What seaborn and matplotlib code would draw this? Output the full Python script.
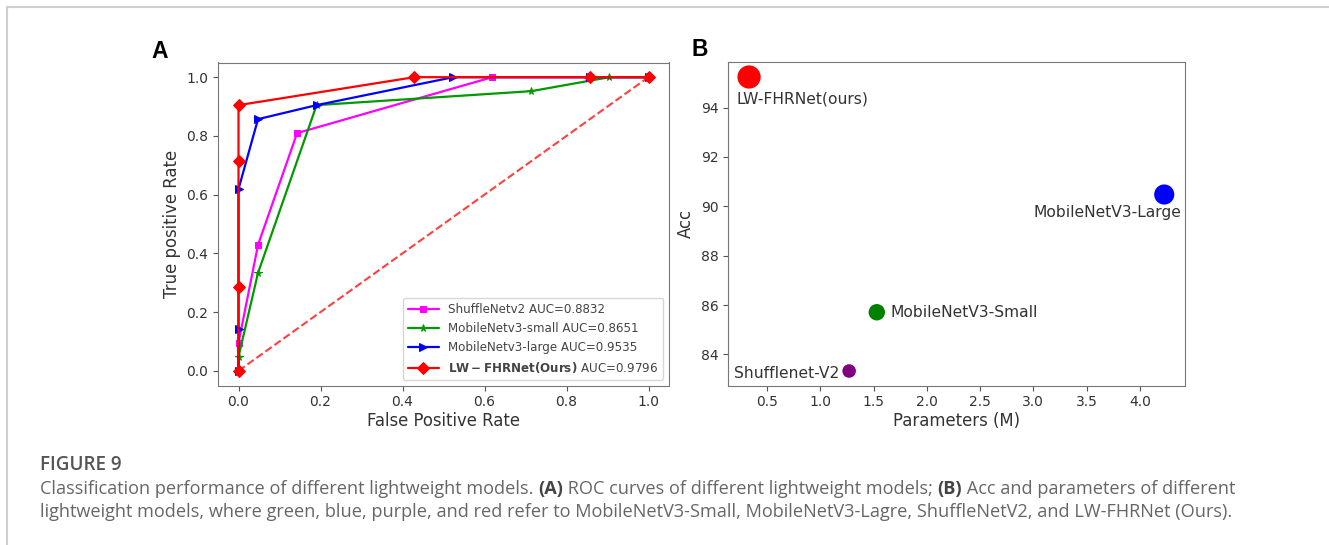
import numpy as np
import pandas as pd
import matplotlib
matplotlib.use("Agg")
import matplotlib.pyplot as plt
import seaborn as sns
from matplotlib.lines import Line2D

# ---------------- data ----------------
# Panel A: ROC curves
shuffle_fpr = [0.0, 0.0, 0.0476, 0.1429, 0.6190, 1.0]
shuffle_tpr = [0.0, 0.0952, 0.4286, 0.8095, 1.0, 1.0]
small_fpr = [0.0, 0.0, 0.0476, 0.1905, 0.7143, 0.9048, 1.0]
small_tpr = [0.0, 0.0476, 0.3333, 0.9048, 0.9524, 1.0, 1.0]
large_fpr = [0.0, 0.0, 0.0, 0.0476, 0.1905, 0.5238, 0.8571, 1.0]
large_tpr = [0.0, 0.1429, 0.6190, 0.8571, 0.9048, 1.0, 1.0, 1.0]
ours_fpr = [0.0, 0.0, 0.0, 0.0, 0.4286, 0.8571, 1.0]
ours_tpr = [0.0, 0.2857, 0.7143, 0.9048, 1.0, 1.0, 1.0]
roc_labels = ["ShuffleNetv2 AUC=0.8832",
              "MobileNetv3-small AUC=0.8651",
              "MobileNetv3-large AUC=0.9535",
              r"$\bf{LW-FHRNet(Ours)}$ AUC=0.9796"]

# Panel B: accuracy vs parameters
models_b = ["LW-FHRNet(ours)", "MobileNetV3-Large", "MobileNetV3-Small", "Shufflenet-V2"]
params_b = [0.33, 4.23, 1.53, 1.27]
acc_b = [95.24, 90.48, 85.71, 83.33]
colors_b = ["#ff0000", "#0000ff", "#008000", "#800080"]

caption_title = "FIGURE 9"
caption_line1 = [("Classification performance of different lightweight models. ", False),
                 ("(A)", True),
                 (" ROC curves of different lightweight models; ", False),
                 ("(B)", True),
                 (" Acc and parameters of different", False)]
caption_line2 = [("lightweight models, where green, blue, purple, and red refer to MobileNetV3-Small, "
                  "MobileNetV3-Lagre, ShuffleNetV2, and LW-FHRNet (Ours).", False)]

# ---------------- style ----------------
sns.set_style("ticks")
plt.rcParams["font.family"] = ["DejaVu Sans"]
plt.rcParams["axes.edgecolor"] = "#777777"
plt.rcParams["xtick.color"] = "#555555"
plt.rcParams["ytick.color"] = "#555555"
plt.rcParams["xtick.labelcolor"] = "#333333"
plt.rcParams["ytick.labelcolor"] = "#333333"
plt.rcParams["axes.labelcolor"] = "#333333"
plt.rcParams["text.color"] = "#333333"

W, H = 1329, 545
fig = plt.figure(figsize=(W / 100, H / 100), dpi=100)
fig.patch.set_facecolor("white")

axA = fig.add_axes([218 / W, 1 - 385.5 / H, 451 / W, 323 / H])
axB = fig.add_axes([728.3 / W, 1 - 385.7 / H, 456.7 / W, 323.4 / H])

# ---------------- Panel A ----------------
series = [
    (shuffle_fpr, shuffle_tpr, "#ff00ff", "s", 4.8),
    (small_fpr, small_tpr, "#009900", "*", 5.5),
    (large_fpr, large_tpr, "#0000ff", ">", 5.5),
    (ours_fpr, ours_tpr, "#ff0000", "D", 5.8),
]
for (fx, ty, col, mk, ms), lab in zip(series, roc_labels):
    df = pd.DataFrame({"fpr": fx, "tpr": ty})
    sns.lineplot(data=df, x="fpr", y="tpr", sort=False, estimator=None,
                 color=col, marker=mk, markersize=ms, markeredgecolor=col,
                 linewidth=1.6, label=lab, ax=axA)
diag = pd.DataFrame({"x": [0, 1], "y": [0, 1]})
sns.lineplot(data=diag, x="x", y="y", color="#ff0000", linestyle="--",
             linewidth=1.5, alpha=0.75, ax=axA, legend=False)
axA.set_xlim(-0.05, 1.05)
axA.set_ylim(-0.05, 1.05)
axA.set_xticks(np.arange(0, 1.01, 0.2))
axA.set_yticks(np.arange(0, 1.01, 0.2))
axA.tick_params(labelsize=10, length=3.5, width=0.8)
axA.set_xlabel("False Positive Rate", fontsize=11.9, labelpad=2)
axA.set_ylabel("True positive Rate", fontsize=11.9, labelpad=4)
leg = axA.legend(loc="lower right", fontsize=8.6, handlelength=2.6,
                 frameon=True, fancybox=True, edgecolor="#cccccc")
for t in leg.get_texts():
    t.set_color("#444444")

# ---------------- Panel B ----------------
dfb = pd.DataFrame({"params": params_b, "acc": acc_b, "model": models_b})
sizes = dict(zip(models_b, [280, 210, 140, 95]))
sns.scatterplot(data=dfb, x="params", y="acc", hue="model", size="model",
                palette=dict(zip(models_b, colors_b)), sizes=sizes,
                edgecolor="none", legend=False, ax=axB)
axB.set_xticks(np.arange(0.5, 4.01, 0.5))
axB.set_yticks(np.arange(84, 94.1, 2))
axB.tick_params(labelsize=10, length=3.5, width=0.8)
axB.set_xlabel("Parameters (M)", fontsize=11.9, labelpad=2)
axB.set_ylabel("Acc", fontsize=11.9, labelpad=4)

# label offsets (points)
offs = {
    "LW-FHRNet(ours)": (-9, -16, "left", "center"),
    "MobileNetV3-Large": (12, -13, "right", "center"),
    "MobileNetV3-Small": (10, 0, "left", "center"),
    "Shufflenet-V2": (-7, -1.5, "right", "center"),
}
for m, px, ac in zip(models_b, params_b, acc_b):
    dx, dy, ha, va = offs[m]
    axB.annotate(m, (px, ac), xytext=(dx, dy), textcoords="offset points",
                 ha=ha, va=va, fontsize=11.2, color="#333333")

for ax in (axA, axB):
    for s in ax.spines.values():
        s.set_visible(True)
        s.set_color("#777777")

# panel letters
fig.text(160 / W, 1 - 52 / H, "A", fontsize=16.5, fontweight="bold",
         family="Liberation Sans", color="black", ha="center", va="center")
fig.text(700 / W, 1 - 50 / H, "B", fontsize=16.5, fontweight="bold",
         family="Liberation Sans", color="black", ha="center", va="center")

# border lines
fig.add_artist(Line2D([7 / W, 1.0], [1 - 7 / H, 1 - 7 / H], transform=fig.transFigure,
                      color="#cfcfcf", linewidth=1.5))
fig.add_artist(Line2D([7 / W, 7 / W], [0, 1 - 7 / H], transform=fig.transFigure,
                      color="#cfcfcf", linewidth=1.5))

# caption
cap_font = "Open Sans"
fig.text(40 / W, 1 - 465 / H, caption_title, fontsize=13.6, fontweight="semibold",
         family=cap_font, color="#555555", ha="left", va="center")

fig.canvas.draw()
renderer = fig.canvas.get_renderer()


def rich_line(parts, x0, y0, size):
    x = x0
    for txt, bold in parts:
        t = fig.text(x / W, 1 - y0 / H, txt, fontsize=size, family=cap_font,
                     fontweight="bold" if bold else "normal",
                     color="#444444" if bold else "#666666", ha="left", va="center")
        bb = t.get_window_extent(renderer=renderer)
        x += bb.width


rich_line(caption_line1, 40, 489, 13.1)
rich_line(caption_line2, 40, 512, 13.1)

fig.savefig("out.png", dpi=100, facecolor="white")
